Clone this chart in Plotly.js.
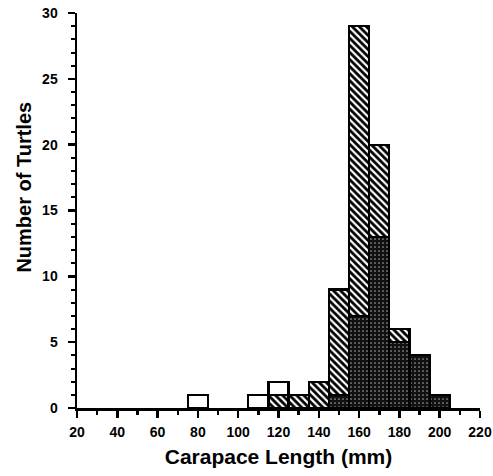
<!DOCTYPE html>
<html>
<head>
<meta charset="utf-8">
<script src="https://cdn.plot.ly/plotly-3.0.1.min.js"></script>
<style>html,body{margin:0;padding:0;background:#fff;}#chart{width:493px;height:476px;}</style>
</head>
<body>
<div id="chart"></div>
<script>
// Bin centres (mm), bin width 10 mm
const binCenters = [80, 110, 120, 130, 140, 150, 160, 170, 180, 190, 200];
// Stacked counts per bin
const darkCounts    = [0, 0, 0, 0, 0, 1, 7, 13, 5, 4, 1];
const hatchedCounts = [0, 0, 1, 1, 2, 8, 22, 7, 1, 0, 0];
const openCounts    = [1, 1, 1, 0, 0, 0, 0, 0, 0, 0, 0];
const xTicks = [20, 40, 60, 80, 100, 120, 140, 160, 180, 200, 220];
const yTicks = [0, 5, 10, 15, 20, 25, 30];
const xTitle = 'Carapace Length (mm)';
const yTitle = 'Number of Turtles';

const FONT = "'Liberation Sans', Arial, sans-serif";
const outline = {color: '#000', width: 2.2};

const traces = [
  {type: 'bar', x: binCenters, y: darkCounts, width: 10,
   marker: {color: '#111', line: outline,
            pattern: {shape: '.', bgcolor: '#111', fgcolor: '#9a9a9a', size: 4, solidity: 0.15}},
   showlegend: false, hoverinfo: 'skip'},
  {type: 'bar', x: binCenters, y: hatchedCounts, width: 10,
   marker: {color: '#fff', line: outline,
            pattern: {shape: '\\', bgcolor: '#fff', fgcolor: '#000', size: 5, solidity: 0.55}},
   showlegend: false, hoverinfo: 'skip'},
  {type: 'bar', x: binCenters, y: openCounts, width: 10,
   marker: {color: '#fff', line: outline},
   showlegend: false, hoverinfo: 'skip'}
];

const layout = {
  width: 493, height: 476,
  margin: {l: 77, r: 13, t: 13, b: 68},
  paper_bgcolor: '#fff', plot_bgcolor: '#fff',
  barmode: 'stack', bargap: 0,
  font: {family: FONT, color: '#000'},
  xaxis: {
    range: [20, 220], tickvals: xTicks, ticktext: xTicks.map(String),
    ticks: 'outside', ticklen: 7, tickwidth: 2.5, tickcolor: '#000',
    minor: {dtick: 10, tick0: 0, ticks: 'outside', ticklen: 4, tickwidth: 2.5, tickcolor: '#000'},
    showline: true, linecolor: '#000', linewidth: 2.5, showgrid: false, zeroline: false,
    tickfont: {family: FONT, size: 14, weight: 'bold'},
    ticklabelstandoff: 3,
    title: {text: xTitle, font: {family: FONT, size: 21, weight: 'bold'}, standoff: 10}
  },
  yaxis: {
    range: [0, 30], tickvals: yTicks, ticktext: yTicks.map(String),
    ticks: 'outside', ticklen: 7, tickwidth: 2.5, tickcolor: '#000',
    minor: {dtick: 1, tick0: 0, ticks: 'outside', ticklen: 4, tickwidth: 2, tickcolor: '#000'},
    showline: true, linecolor: '#000', linewidth: 2.5, showgrid: false, zeroline: false,
    tickfont: {family: FONT, size: 14, weight: 'bold'},
    ticklabelstandoff: 7
  },
  annotations: [{
    text: yTitle, textangle: -90, xref: 'paper', yref: 'paper',
    x: -0.132, y: 0.56, xanchor: 'center', yanchor: 'middle', showarrow: false,
    font: {family: FONT, size: 20, weight: 'bold'}
  }]
};

Plotly.newPlot('chart', traces, layout, {displayModeBar: false, staticPlot: true});
</script>
</body>
</html>
